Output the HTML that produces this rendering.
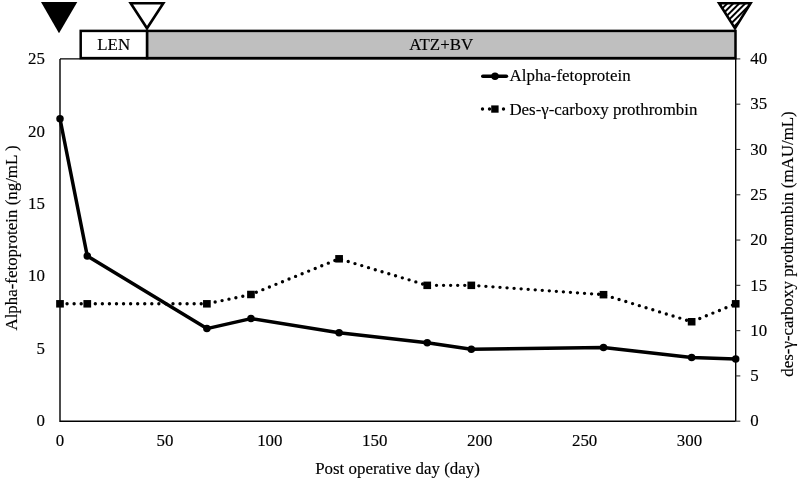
<!DOCTYPE html>
<html lang="en"><head><meta charset="utf-8"><title>Tumor marker chart</title>
<style>html,body{margin:0;padding:0;background:#fff}body{width:799px;height:483px;overflow:hidden}</style></head>
<body>
<svg width="799" height="483" viewBox="0 0 799 483" style="display:block">
<defs><pattern id="hatch" patternUnits="userSpaceOnUse" x="0" y="0" width="6" height="6"><rect width="6" height="6" fill="#fff"/><path d="M-1.3 0 L0 -1.3 M-1 5.7 L5.7 -1 M4.7 6 L6 4.7 M-2 12.7 L12.7 -2" stroke="#000" stroke-width="2.0" fill="none"/></pattern></defs>
<rect width="799" height="483" fill="#fff"/>
<path d="M60.0 58.9 H735.7 M60.0 58.9 V421.2 H735.7 M735.7 58.9 V421.2" fill="none" stroke="#000" stroke-width="1.4"/>
<path d="M735.7 421.20 h4.6" stroke="#333" stroke-width="1.1"/>
<path d="M735.7 375.91 h4.6" stroke="#333" stroke-width="1.1"/>
<path d="M735.7 330.62 h4.6" stroke="#333" stroke-width="1.1"/>
<path d="M735.7 285.34 h4.6" stroke="#333" stroke-width="1.1"/>
<path d="M735.7 240.05 h4.6" stroke="#333" stroke-width="1.1"/>
<path d="M735.7 194.76 h4.6" stroke="#333" stroke-width="1.1"/>
<path d="M735.7 149.47 h4.6" stroke="#333" stroke-width="1.1"/>
<path d="M735.7 104.19 h4.6" stroke="#333" stroke-width="1.1"/>
<path d="M735.7 58.90 h4.6" stroke="#333" stroke-width="1.1"/>
<rect x="147" y="30.9" width="588.5" height="27.2" fill="#bfbfbf" stroke="#000" stroke-width="2.5"/>
<rect x="80.7" y="30.9" width="66.3" height="27.2" fill="#fff" stroke="#000" stroke-width="2.5"/>
<polygon points="41,1.9 77.3,1.9 59,33.2" fill="#000"/>
<polygon points="130.7,3.25 163.3,3.25 147,28.3" fill="#fff" stroke="#000" stroke-width="2.6" stroke-linejoin="miter"/>
<polygon points="719.1,3.25 750.6,3.25 735,28.4" fill="url(#hatch)" stroke="#000" stroke-width="2.6" stroke-linejoin="miter"/>
<text x="113.7" y="50.1" text-anchor="middle" font-family="'Liberation Serif', 'Times New Roman', serif" font-size="16.9" stroke="#000" stroke-width="0.15" fill="#000">LEN</text>
<text x="441.2" y="50.1" text-anchor="middle" font-family="'Liberation Serif', 'Times New Roman', serif" font-size="16.9" stroke="#000" stroke-width="0.15" fill="#000">ATZ+BV</text>
<text x="45.0" y="426.40" text-anchor="end" font-family="'Liberation Serif', 'Times New Roman', serif" font-size="16.9" stroke="#000" stroke-width="0.15" fill="#000">0</text>
<text x="45.0" y="353.94" text-anchor="end" font-family="'Liberation Serif', 'Times New Roman', serif" font-size="16.9" stroke="#000" stroke-width="0.15" fill="#000">5</text>
<text x="45.0" y="281.48" text-anchor="end" font-family="'Liberation Serif', 'Times New Roman', serif" font-size="16.9" stroke="#000" stroke-width="0.15" fill="#000">10</text>
<text x="45.0" y="209.02" text-anchor="end" font-family="'Liberation Serif', 'Times New Roman', serif" font-size="16.9" stroke="#000" stroke-width="0.15" fill="#000">15</text>
<text x="45.0" y="136.56" text-anchor="end" font-family="'Liberation Serif', 'Times New Roman', serif" font-size="16.9" stroke="#000" stroke-width="0.15" fill="#000">20</text>
<text x="45.0" y="64.10" text-anchor="end" font-family="'Liberation Serif', 'Times New Roman', serif" font-size="16.9" stroke="#000" stroke-width="0.15" fill="#000">25</text>
<text x="750.2" y="426.40" text-anchor="start" font-family="'Liberation Serif', 'Times New Roman', serif" font-size="16.9" stroke="#000" stroke-width="0.15" fill="#000">0</text>
<text x="750.2" y="381.11" text-anchor="start" font-family="'Liberation Serif', 'Times New Roman', serif" font-size="16.9" stroke="#000" stroke-width="0.15" fill="#000">5</text>
<text x="750.2" y="335.82" text-anchor="start" font-family="'Liberation Serif', 'Times New Roman', serif" font-size="16.9" stroke="#000" stroke-width="0.15" fill="#000">10</text>
<text x="750.2" y="290.54" text-anchor="start" font-family="'Liberation Serif', 'Times New Roman', serif" font-size="16.9" stroke="#000" stroke-width="0.15" fill="#000">15</text>
<text x="750.2" y="245.25" text-anchor="start" font-family="'Liberation Serif', 'Times New Roman', serif" font-size="16.9" stroke="#000" stroke-width="0.15" fill="#000">20</text>
<text x="750.2" y="199.96" text-anchor="start" font-family="'Liberation Serif', 'Times New Roman', serif" font-size="16.9" stroke="#000" stroke-width="0.15" fill="#000">25</text>
<text x="750.2" y="154.67" text-anchor="start" font-family="'Liberation Serif', 'Times New Roman', serif" font-size="16.9" stroke="#000" stroke-width="0.15" fill="#000">30</text>
<text x="750.2" y="109.39" text-anchor="start" font-family="'Liberation Serif', 'Times New Roman', serif" font-size="16.9" stroke="#000" stroke-width="0.15" fill="#000">35</text>
<text x="750.2" y="64.10" text-anchor="start" font-family="'Liberation Serif', 'Times New Roman', serif" font-size="16.9" stroke="#000" stroke-width="0.15" fill="#000">40</text>
<text x="60.00" y="445.9" text-anchor="middle" font-family="'Liberation Serif', 'Times New Roman', serif" font-size="16.9" stroke="#000" stroke-width="0.15" fill="#000">0</text>
<text x="164.92" y="445.9" text-anchor="middle" font-family="'Liberation Serif', 'Times New Roman', serif" font-size="16.9" stroke="#000" stroke-width="0.15" fill="#000">50</text>
<text x="269.84" y="445.9" text-anchor="middle" font-family="'Liberation Serif', 'Times New Roman', serif" font-size="16.9" stroke="#000" stroke-width="0.15" fill="#000">100</text>
<text x="374.77" y="445.9" text-anchor="middle" font-family="'Liberation Serif', 'Times New Roman', serif" font-size="16.9" stroke="#000" stroke-width="0.15" fill="#000">150</text>
<text x="479.69" y="445.9" text-anchor="middle" font-family="'Liberation Serif', 'Times New Roman', serif" font-size="16.9" stroke="#000" stroke-width="0.15" fill="#000">200</text>
<text x="584.61" y="445.9" text-anchor="middle" font-family="'Liberation Serif', 'Times New Roman', serif" font-size="16.9" stroke="#000" stroke-width="0.15" fill="#000">250</text>
<text x="689.53" y="445.9" text-anchor="middle" font-family="'Liberation Serif', 'Times New Roman', serif" font-size="16.9" stroke="#000" stroke-width="0.15" fill="#000">300</text>
<text x="397.5" y="473.7" text-anchor="middle" font-family="'Liberation Serif', 'Times New Roman', serif" font-size="16.9" stroke="#000" stroke-width="0.15" fill="#000">Post operative day (day)</text>
<text transform="translate(17.4 238) rotate(-90)" text-anchor="middle" font-family="'Liberation Serif', 'Times New Roman', serif" font-size="16.9" stroke="#000" stroke-width="0.15" fill="#000">Alpha-fetoprotein (ng/mL )</text>
<text transform="translate(792.7 244) rotate(-90)" text-anchor="middle" font-family="'Liberation Serif', 'Times New Roman', serif" font-size="16.9" stroke="#000" stroke-width="0.15" fill="#000">des-γ-carboxy prothrombin (mAU/mL)</text>
<polyline points="60.00,303.81 87.28,303.81 206.89,303.81 250.96,294.49 339.09,258.80 427.23,285.34 471.30,285.34 603.50,294.67 691.63,321.75 735.70,303.81" fill="none" stroke="#000" stroke-width="3.4" stroke-linecap="round" stroke-linejoin="round" stroke-dasharray="0 7.061"/>
<rect x="56.15" y="300.06" width="7.7" height="7.5" fill="#000"/>
<rect x="83.43" y="300.06" width="7.7" height="7.5" fill="#000"/>
<rect x="203.04" y="300.06" width="7.7" height="7.5" fill="#000"/>
<rect x="247.11" y="290.74" width="7.7" height="7.5" fill="#000"/>
<rect x="335.24" y="255.05" width="7.7" height="7.5" fill="#000"/>
<rect x="423.38" y="281.59" width="7.7" height="7.5" fill="#000"/>
<rect x="467.45" y="281.59" width="7.7" height="7.5" fill="#000"/>
<rect x="599.65" y="290.92" width="7.7" height="7.5" fill="#000"/>
<rect x="687.78" y="318.00" width="7.7" height="7.5" fill="#000"/>
<rect x="731.85" y="300.06" width="7.7" height="7.5" fill="#000"/>
<polyline points="60.00,118.75 87.28,255.99 206.89,328.60 250.96,318.60 339.09,332.65 427.23,342.65 471.30,349.17 603.50,347.58 691.63,357.58 735.70,359.03" fill="none" stroke="#000" stroke-width="3.5" stroke-linecap="round" stroke-linejoin="round"/>
<circle cx="60.00" cy="118.75" r="3.75" fill="#000"/>
<circle cx="87.28" cy="255.99" r="3.75" fill="#000"/>
<circle cx="206.89" cy="328.60" r="3.75" fill="#000"/>
<circle cx="250.96" cy="318.60" r="3.75" fill="#000"/>
<circle cx="339.09" cy="332.65" r="3.75" fill="#000"/>
<circle cx="427.23" cy="342.65" r="3.75" fill="#000"/>
<circle cx="471.30" cy="349.17" r="3.75" fill="#000"/>
<circle cx="603.50" cy="347.58" r="3.75" fill="#000"/>
<circle cx="691.63" cy="357.58" r="3.75" fill="#000"/>
<circle cx="735.70" cy="359.03" r="3.75" fill="#000"/>
<path d="M482.8 76.25 H506.4" stroke="#000" stroke-width="3.6" stroke-linecap="round"/>
<circle cx="495" cy="76.25" r="3.75" fill="#000"/>
<text x="509.6" y="80.6" font-family="'Liberation Serif', 'Times New Roman', serif" font-size="16.9" stroke="#000" stroke-width="0.15" fill="#000">Alpha-fetoprotein</text>
<path d="M482.5 109 H504" stroke="#000" stroke-width="3.4" stroke-linecap="round" stroke-dasharray="0 7.0"/>
<rect x="491.2" y="105.4" width="7.4" height="7.3" fill="#000"/>
<text x="509.4" y="114.6" font-family="'Liberation Serif', 'Times New Roman', serif" font-size="16.9" stroke="#000" stroke-width="0.15" fill="#000">Des-γ-carboxy prothrombin</text>
</svg>
</body></html>
